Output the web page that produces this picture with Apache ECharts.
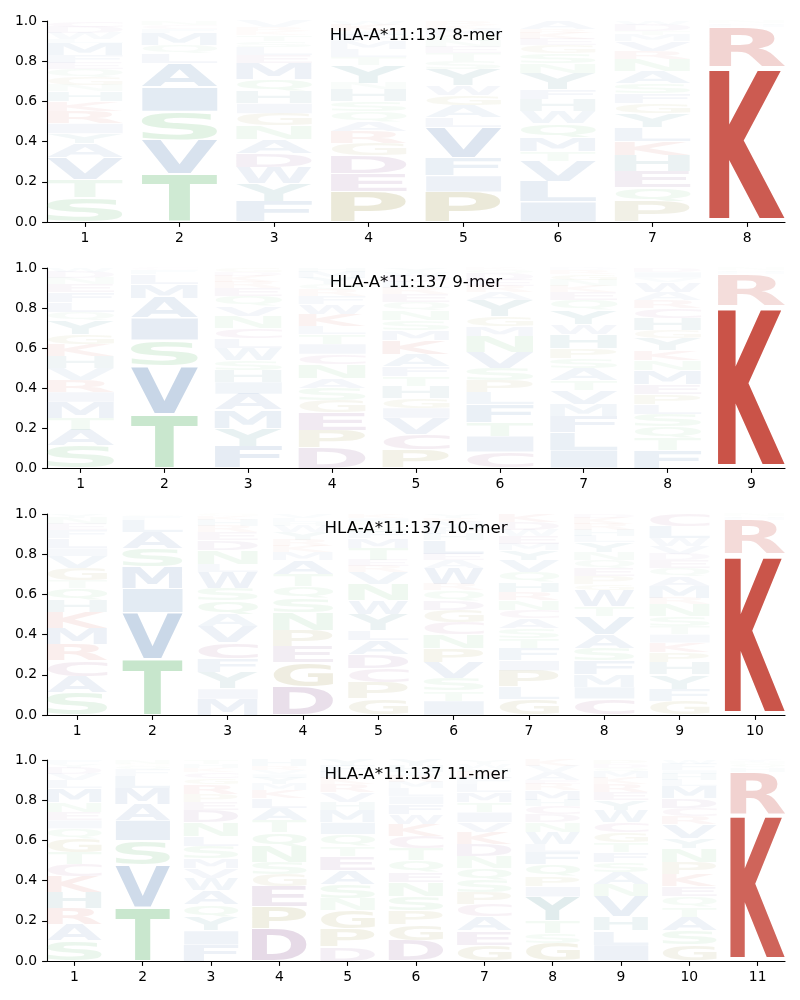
<!DOCTYPE html>
<html>
<head>
<meta charset="utf-8">
<script src="https://cdn.jsdelivr.net/npm/echarts@6/dist/echarts.min.js"></script>
<style>html,body{margin:0;padding:0;background:#fff;}#c{width:800px;height:1000px;}</style>
</head>
<body>
<div id="c"></div>
<script>
// ---------- DATA ----------
const titles = ['HLA-A*11:137 8-mer', 'HLA-A*11:137 9-mer', 'HLA-A*11:137 10-mer', 'HLA-A*11:137 11-mer'];
const yTicks = [0, 0.2, 0.4, 0.6, 0.8, 1.0];

// letters per position, bottom to top, with their heights (probabilities)
const letters8 = ['STVAYIRKHNGQEFMLWDC', 'TVSIALQMFCN', 'FYWDANGIHQMELSTKRV', 'PEDGRAQSHNYTLMFIKW',
  'PIFVLAGWYSTENQMKR', 'ILVTMQWHFYNSGEKRA', 'PQEHKLYGFSANRVMTDW', 'KRHQN'];
const heights8 = [
  [.12,.09,.11,.07,.05,.05,.06,.05,.05,.03,.04,.04,.03,.04,.06,.02,.03,.03,.03],
  [.24,.17,.14,.12,.12,.05,.04,.06,.02,.02,.02],
  [.10,.09,.08,.07,.07,.07,.06,.05,.06,.06,.08,.04,.04,.03,.03,.02,.02,.03],
  [.15,.09,.09,.06,.06,.05,.05,.05,.06,.03,.09,.04,.04,.04,.03,.02,.03,.02],
  [.15,.08,.09,.15,.05,.06,.05,.05,.08,.04,.04,.03,.03,.03,.03,.02,.02],
  [.10,.10,.10,.05,.07,.07,.06,.06,.05,.08,.05,.05,.04,.03,.03,.02,.04],
  [.10,.07,.08,.08,.07,.07,.07,.05,.05,.05,.06,.06,.04,.05,.03,.02,.03,.02],
  [.77,.20,.01,.01,.01]
];

const letters9 = ['SATMIRVHKGYQLFENDW', 'TVSIAMLFC', 'FYMAIHSWLCNVQERKDG', 'DPEGSANCITLKWFRQYMH',
  'PCVIGHTFAKMSNQERLDWY', 'CITFLPSVNMGYAREDQK', 'ILFMVTASPHWYQEKNGRD', 'FTQSLPEMNKYGHCRAWVID', 'KRHQN'];
const heights9 = [
  [.11,.08,.06,.08,.05,.06,.06,.06,.06,.05,.07,.04,.05,.05,.04,.03,.03,.02],
  [.27,.24,.13,.11,.10,.07,.05,.02,.01],
  [.11,.09,.09,.08,.06,.06,.05,.06,.05,.05,.06,.05,.05,.04,.03,.03,.02,.02],
  [.10,.09,.09,.06,.06,.05,.07,.05,.05,.05,.04,.06,.05,.04,.03,.03,.03,.03,.02],
  [.09,.08,.08,.05,.05,.06,.05,.05,.06,.07,.05,.05,.05,.04,.04,.03,.03,.03,.02,.02],
  [.08,.08,.07,.09,.06,.06,.06,.08,.08,.05,.05,.08,.04,.03,.03,.03,.02,.01],
  [.09,.09,.08,.06,.07,.05,.06,.05,.05,.07,.05,.07,.05,.04,.03,.03,.03,.02,.01],
  [.09,.06,.06,.06,.05,.05,.05,.07,.05,.05,.06,.04,.06,.05,.04,.04,.05,.02,.03,.02],
  [.81,.16,.01,.01,.01]
];

const letters10 = ['SACRMKHQTGVILFENY', 'TVIMSALFQ', 'MIYFCVAQSWLNDERHKG', 'DGEPNSQTAMKRYWHLV',
  'GPCDALYWNVRETMFSQIK', 'ITSVPNCGDQRWAELHFMKY', 'GLPIFTSACNRHQVYMEWDK', 'CIMFSAVTWGPEQNYLHRKD',
  'GFYHPKITSNRMAQEDVWLC', 'KRHQN'];
const heights10 = [
  [.11,.08,.08,.08,.08,.08,.06,.06,.04,.06,.06,.04,.05,.04,.03,.03,.02],
  [.28,.23,.12,.11,.09,.08,.06,.02,.01],
  [.08,.05,.08,.07,.08,.08,.06,.07,.06,.08,.04,.07,.05,.04,.03,.03,.02,.01],
  [.14,.12,.08,.08,.09,.07,.06,.06,.07,.04,.03,.03,.04,.03,.02,.02,.02],
  [.08,.08,.07,.07,.07,.05,.08,.07,.08,.06,.03,.03,.06,.05,.03,.03,.02,.02,.02],
  [.07,.05,.06,.08,.07,.07,.06,.06,.05,.05,.03,.08,.04,.03,.07,.03,.03,.03,.02,.02],
  [.08,.06,.08,.05,.06,.05,.05,.05,.04,.05,.04,.05,.05,.06,.05,.03,.04,.03,.04,.04],
  [.08,.06,.06,.07,.06,.07,.09,.05,.08,.03,.04,.04,.04,.04,.05,.03,.03,.03,.03,.02],
  [.07,.06,.07,.06,.05,.05,.04,.04,.05,.06,.03,.06,.05,.04,.04,.03,.04,.04,.06,.06],
  [.80,.17,.01,.01,.01]
];

const letters11 = ['SARHKCTGQIENMLVDYF', 'TVSIAMLFQGN', 'FIYQAWVMSLNDEPRGCKHT', 'DPEGSNQTALKMYIVRH',
  'DPGNSAETQIMHVRKLFY', 'DGPSNEQTCKWFILMRAHY', 'GEACPSQNDKVITMLFRHWY', 'GSTYIPQFLWNDCHMREAVK',
  'ILHVNASFTGCWYERKMQDP', 'GSATQEKPNYVRCDMLHIFW', 'KRHQNY'];
const heights11 = [
  [.10,.08,.08,.08,.08,.06,.06,.07,.05,.04,.04,.05,.07,.04,.03,.03,.02,.02],
  [.27,.21,.12,.10,.08,.08,.06,.03,.02,.01,.02],
  [.08,.07,.07,.06,.07,.06,.05,.05,.06,.05,.07,.06,.04,.04,.05,.03,.03,.02,.02,.02],
  [.16,.11,.10,.06,.06,.08,.07,.06,.06,.05,.04,.03,.03,.02,.02,.02,.03],
  [.07,.09,.09,.06,.07,.07,.07,.05,.06,.06,.06,.04,.05,.04,.03,.03,.03,.03],
  [.10,.08,.07,.07,.07,.05,.06,.06,.06,.06,.05,.05,.04,.04,.03,.03,.02,.03,.03],
  [.08,.07,.07,.06,.06,.06,.06,.06,.06,.06,.05,.05,.05,.05,.04,.03,.03,.02,.02,.02],
  [.09,.05,.06,.12,.05,.05,.06,.06,.04,.06,.05,.04,.04,.03,.05,.03,.02,.04,.03,.03],
  [.08,.07,.07,.10,.06,.06,.05,.05,.05,.05,.05,.06,.05,.04,.04,.03,.03,.02,.02,.02],
  [.08,.07,.07,.05,.05,.05,.06,.06,.07,.05,.07,.04,.04,.05,.06,.03,.03,.02,.03,.02],
  [.73,.21,.02,.02,.01,.01]
];

const panelLetters = [letters8, letters9, letters10, letters11];
const panelHeights = [heights8, heights9, heights10, heights11];

// ---------- STYLE ----------
const AA = 'ACDEFGHIKLMNPQRSTVWY';
const groupColor = {
  K: [199, 74, 63], R: [199, 74, 63],
  A: [60, 110, 170], V: [60, 110, 170], I: [60, 110, 170], L: [60, 110, 170],
  M: [60, 110, 170], F: [60, 110, 170], W: [60, 110, 170],
  S: [85, 180, 100], T: [85, 180, 100], N: [85, 180, 100], Q: [85, 180, 100],
  D: [120, 60, 130], E: [120, 60, 130], C: [150, 70, 130],
  P: [140, 130, 40], G: [140, 130, 40],
  Y: [40, 120, 130], H: [40, 120, 130]
};
const FS = 100;
const FONT = 'bold ' + FS + 'px "DejaVu Sans"';
const mctx = document.createElement('canvas').getContext('2d');
mctx.font = FONT; mctx.textBaseline = 'middle'; mctx.textAlign = 'left';
const metrics = {};
for (const c of AA) {
  const m = mctx.measureText(c);
  metrics[c] = { l: m.actualBoundingBoxLeft, r: m.actualBoundingBoxRight, a: m.actualBoundingBoxAscent, d: m.actualBoundingBoxDescent };
}

function renderItem(params, api) {
  const x = api.value(0), y0 = api.value(1), y1 = api.value(2);
  const c = AA[api.value(3)];
  const h = y1 - y0;
  const pad = h * 0.025;
  const p0 = api.coord([x - 0.4, y0 + pad]);
  const p1 = api.coord([x + 0.4, y1 - pad]);
  const bw = p1[0] - p0[0], bh = p0[1] - p1[1];
  const m = metrics[c];
  const sx = bw / (m.l + m.r), sy = bh / (m.a + m.d);
  const col = groupColor[c];
  const alpha = Math.min(1, h / 0.85);
  return {
    type: 'text', silent: true,
    x: p0[0] + sx * m.l, y: p1[1] - sy * (FS / 2 - m.a), scaleX: sx, scaleY: sy,
    style: { text: c, font: FONT, fill: 'rgba(' + col.join(',') + ',' + alpha.toFixed(3) + ')',
      align: 'left', verticalAlign: 'top', lineHeight: FS }
  };
}

const gridTops = [21, 268, 514, 760];
const gridHeights = [201, 200, 201, 201];
const LEFT = 47, RIGHT = 785;

const grids = [], xAxes = [], yAxes = [], series = [], graphics = [];
const axisFont = { fontFamily: '"DejaVu Sans"', fontSize: 13.9, color: '#000' };
panelLetters.forEach((letters, gi) => {
  const n = letters.length;
  const heights = panelHeights[gi];
  grids.push({ left: LEFT, width: RIGHT - LEFT, top: gridTops[gi], height: gridHeights[gi], containLabel: false });
  const positions = letters.map((_, i) => i + 1);
  xAxes.push({
    type: 'value', gridIndex: gi, min: 0.6, max: n + 0.4,
    axisLine: { show: true, onZero: false, lineStyle: { color: '#000', width: 1.1 } },
    axisTick: { show: true, length: 4.9, customValues: positions, lineStyle: { color: '#000', width: 1.1 } },
    axisLabel: { show: true, margin: 9, customValues: positions, formatter: v => String(v), ...axisFont },
    splitLine: { show: false }
  });
  yAxes.push({
    type: 'value', gridIndex: gi, min: 0, max: 1, interval: 0.2,
    axisLine: { show: true, lineStyle: { color: '#000', width: 1.1 } },
    axisTick: { show: true, length: 4.9, lineStyle: { color: '#000', width: 1.1 } },
    axisLabel: { margin: 10, formatter: v => v.toFixed(1), ...axisFont },
    splitLine: { show: false }
  });
  const data = [];
  letters.forEach((str, pi) => {
    let cum = 0;
    str.split('').forEach((c, li) => {
      const hgt = heights[pi][li];
      data.push([pi + 1, cum, cum + hgt, AA.indexOf(c)]);
      cum += hgt;
    });
  });
  series.push({
    type: 'custom', xAxisIndex: gi, yAxisIndex: gi, renderItem: renderItem, data: data,
    clip: false, animation: false
  });
  graphics.push({
    type: 'text', x: (LEFT + RIGHT) / 2, y: gridTops[gi] + 15, silent: true,
    style: { text: titles[gi], font: '16.67px "DejaVu Sans"', fill: '#000', align: 'center', verticalAlign: 'middle' }
  });
});

const chart = echarts.init(document.getElementById('c'), null, { renderer: 'canvas' });
chart.setOption({
  backgroundColor: '#fff',
  animation: false,
  grid: grids, xAxis: xAxes, yAxis: yAxes, series: series,
  graphic: { elements: graphics }
});
</script>
</body>
</html>
